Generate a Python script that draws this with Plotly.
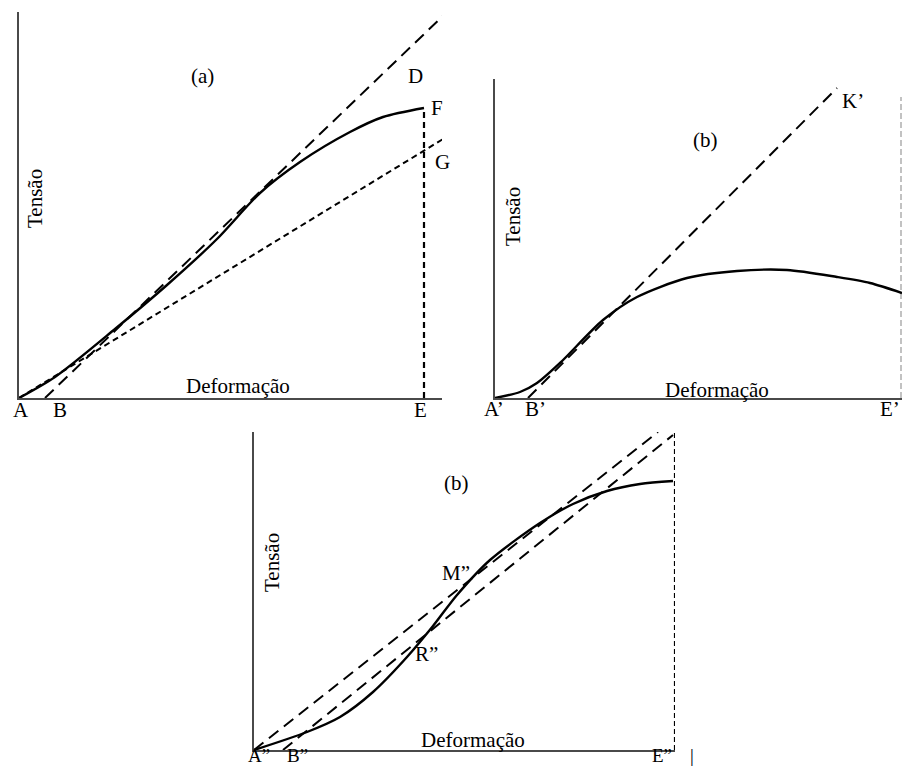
import plotly.graph_objects as go

W, H = 902, 767

# ---- Panel (a) data (deformação, tensão) ----
a_curve_x = [0, 36, 96, 148, 198, 241, 281, 331, 364, 405]
a_curve_y = [0, 21, 69, 113, 159, 205, 236, 266, 281, 290]
a_lineD_x = [26, 426]
a_lineD_y = [0, 384]
a_lineG_x = [0, 429]
a_lineG_y = [0, 262]
a_vert_x = [405, 405]
a_vert_y = [0, 290]

# ---- Panel (b) top-right data ----
b_curve_x = [0, 25, 42, 65, 108, 142, 192, 242, 292, 342, 375, 407]
b_curve_y = [0, 6, 15, 35, 78, 101, 120, 127, 128, 121, 115, 105]
b_lineK_x = [33, 342]
b_lineK_y = [0, 310]
b_vert_x = [406, 406]
b_vert_y = [0, 301]

# ---- Panel (b) bottom data ----
c_curve_x = [0, 53, 86, 119, 153, 179, 203, 236, 286, 319, 353, 386, 419]
c_curve_y = [0, 18, 33, 58, 93, 124, 155, 190, 227, 246, 259, 266, 269]
c_line1_x = [0, 404]
c_line1_y = [0, 318]
c_line2_x = [29, 419]
c_line2_y = [0, 315]
c_vert_x = [421, 421]
c_vert_y = [0, 318]

# panel boxes in pixels: (left, right, top, bottom) and data ranges
panels = {
    "": dict(px=(19, 442, 12, 398), xr=[0, 423], yr=[0, 386]),
    "2": dict(px=(495, 902, 79, 398), xr=[0, 407], yr=[0, 319]),
    "3": dict(px=(254, 675, 432, 750), xr=[0, 421], yr=[0, 318]),
}

fig = go.Figure()

def add(x, y, ax, dash="solid", width=2.2, color="black", spline=False):
    fig.add_trace(go.Scatter(
        x=x, y=y, mode="lines", xaxis="x" + ax, yaxis="y" + ax,
        line=dict(color=color, width=width, dash=dash,
                  shape="spline" if spline else "linear", smoothing=0.8),
        hoverinfo="skip", showlegend=False))

LONG = "12px,7px"
SHORT = "6px,4px"

add(a_lineD_x, a_lineD_y, "", LONG, 2)
add(a_lineG_x, a_lineG_y, "", SHORT, 2)
add(a_vert_x, a_vert_y, "", SHORT, 2.2)
add(a_curve_x, a_curve_y, "", "solid", 2.4, spline=True)

add(b_lineK_x, b_lineK_y, "2", LONG, 2)
add(b_vert_x, b_vert_y, "2", "6px,3px", 1.2, color="#9a9a9a")
add(b_curve_x, b_curve_y, "2", "solid", 2.4, spline=True)

add(c_line1_x, c_line1_y, "3", LONG, 2)
add(c_line2_x, c_line2_y, "3", LONG, 2)
add(c_vert_x, c_vert_y, "3", "5px,3px", 2.2)
add(c_curve_x, c_curve_y, "3", "solid", 2.4, spline=True)

layout = dict(width=W, height=H, margin=dict(l=0, r=0, t=0, b=0),
              plot_bgcolor="white", paper_bgcolor="white", showlegend=False)
for k, p in panels.items():
    l, r, t, b = p["px"]
    ax_common = dict(showgrid=False, zeroline=False, showticklabels=False,
                     ticks="", showline=True, linecolor="#4a4a4a", linewidth=2,
                     fixedrange=True)
    layout["xaxis" + k] = dict(domain=[l / W, r / W], range=p["xr"],
                               anchor="y" + k, **ax_common)
    layout["yaxis" + k] = dict(domain=[1 - b / H, 1 - t / H], range=p["yr"],
                               anchor="x" + k, **ax_common)
fig.update_layout(**layout)

FAMILY = "Liberation Serif, Times New Roman, serif"

labels = [
    ("A", 21, 410, 0, "center", 21), ("B", 60, 410, 0, "center", 21),
    ("E", 420, 410, 0, "center", 21),
    ("Deformação", 238, 386, 0, "center", 21), ("Tensão", 35, 199, -90, "center", 21),
    ("(a)", 202, 76, 0, "center", 21), ("D", 415, 76, 0, "center", 21),
    ("F", 437, 108, 0, "center", 21), ("G", 442, 162, 0, "center", 21),
    ("A’", 494, 409, 0, "center", 21), ("B’", 535, 409, 0, "center", 21),
    ("E’", 901, 409, 0, "right", 21),
    ("Deformação", 717, 390, 0, "center", 21), ("Tensão", 513, 217, -90, "center", 21),
    ("(b)", 705, 140, 0, "center", 21), ("K’", 853, 101, 0, "center", 21),
    ("A”", 259, 755, 0, "center", 19), ("B”", 297, 755, 0, "center", 19),
    ("E”", 662, 755, 0, "center", 19),
    ("Deformação", 473, 740, 0, "center", 21), ("Tensão", 272, 563, -90, "center", 21),
    ("(b)", 457, 483, 0, "center", 21), ("M”", 456, 573, 0, "center", 21),
    ("R”", 426, 654, 0, "center", 21),
    ("|", 692, 755, 0, "center", 19),
]
for text, px, py, rot, xa, fs in labels:
    fig.add_annotation(x=px / W, y=1 - py / H, xref="paper", yref="paper",
                       text=text, showarrow=False, textangle=rot,
                       font=dict(family=FAMILY, size=fs, color="black"),
                       xanchor=xa, yanchor="middle", borderpad=0)

fig.write_html(
    "out.html",
    config={"displayModeBar": False},
    post_script="document.body.style.margin='0';document.body.style.overflow='hidden';",
)
